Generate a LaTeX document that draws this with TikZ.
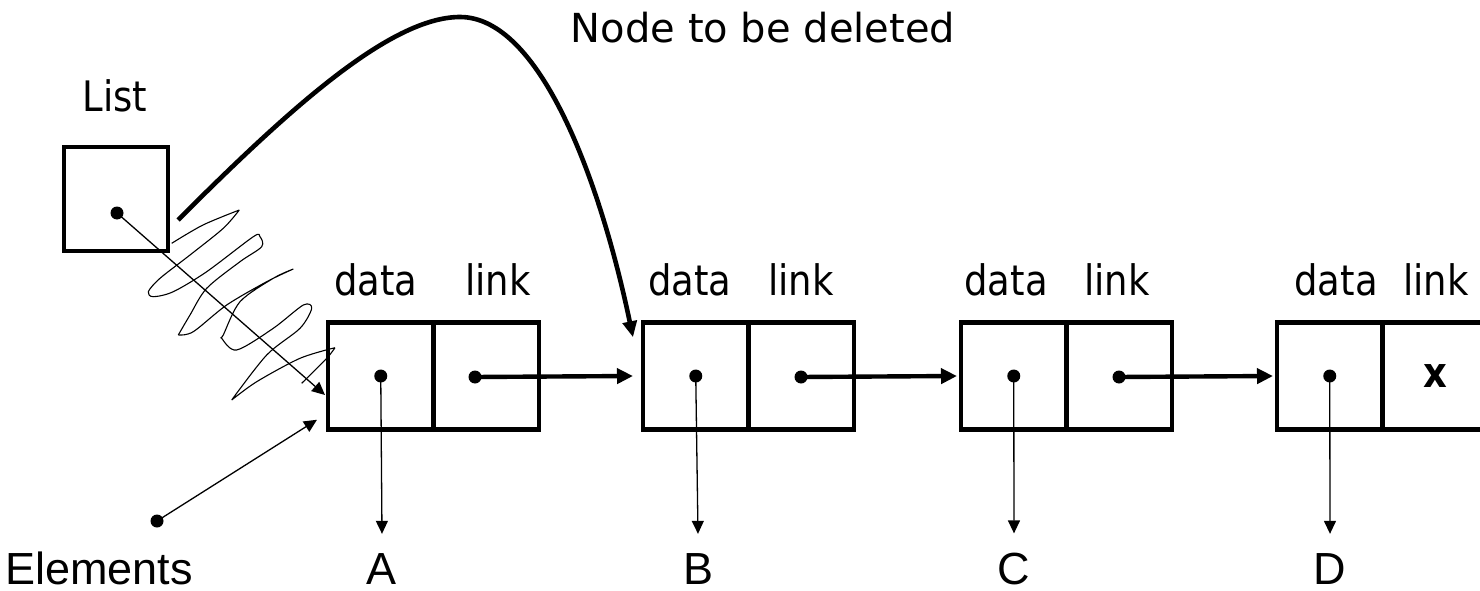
\documentclass[tikz,border=0pt]{standalone}
\usepackage{fontspec}
\setmainfont{DejaVu Sans}[FakeStretch=0.88]
\newfontfamily\titlefont{DejaVu Sans}
\newfontfamily\arialfont{Liberation Sans}
\usetikzlibrary{arrows.meta}

\begin{document}
\begin{tikzpicture}[x=1pt,y=-1pt,
  cell/.style={draw,line width=4.6pt,minimum width=105.5pt,minimum height=107.5pt,inner sep=0pt,outer sep=0pt},
  ptr/.style={circle,fill,inner sep=0pt,minimum size=13pt},
  fieldlbl/.style={anchor=base,inner sep=0pt,font=\fontsize{42}{50}\selectfont},
  elemlbl/.style={anchor=base,inner sep=0pt,font=\arialfont\fontsize{45}{54}\selectfont},
  linkarrow/.style={line width=4.4pt,-{Triangle[length=16pt,width=15pt]}},
  fine/.style={line width=1.3pt,-{Triangle[length=13pt,width=12pt]}},
  scrib/.style={smooth,tension=0.5},
]
\useasboundingbox (0,0) rectangle (1480,591);
\clip (0,0) rectangle (1480,591);

% list head
\node[draw,line width=4.6pt,minimum size=104pt,inner sep=0pt] (list) at (116,199) {};
\node[ptr] (list-p) at (117,213) {};
\node[fieldlbl] (list-t) at (115,112) {List};

% the four list nodes: data cell + link cell
\foreach \n/\L in {A/328,B/643,C/961,D/1277} {
  \node[cell] (\n-d) at (\L+52.75,376) {};
  \node[cell] (\n-l) at (\L+158.25,376) {};
  \node[ptr] (\n-v) at (\n-d) {};
}

% field captions
\node[fieldlbl] (A-dt) at (376,295) {data};
\node[fieldlbl] (A-lt) at (498,295) {link};
\node[fieldlbl] (B-dt) at (690,295) {data};
\node[fieldlbl] (B-lt) at (801,295) {link};
\node[fieldlbl] (C-dt) at (1006,295) {data};
\node[fieldlbl] (C-lt) at (1117,295) {link};
\node[fieldlbl] (D-dt) at (1336,295) {data};
\node[fieldlbl] (D-lt) at (1436,295) {link};

% link pointers
\node[ptr] (A-p) at (475,377) {};
\node[ptr] (B-p) at (801,377) {};
\node[ptr] (C-p) at (1119,377) {};
\node[inner sep=0pt,font=\bfseries\fontsize{42}{50}\selectfont] (D-x) at (D-l) {x};

\draw[linkarrow] (A-p.center) -- ([xshift=-10pt]B-d.west);
\draw[linkarrow] (B-p.center) -- ([xshift=-4pt]C-d.west);
\draw[linkarrow] (C-p.center) -- ([xshift=-4pt]D-d.west);

% element values
\node[elemlbl] (A-e) at (382,584) {A};
\node[elemlbl] (B-e) at (698,584) {B};
\node[elemlbl] (C-e) at (1014,584) {C};
\node[elemlbl] (D-e) at (1330,584) {D};
\foreach \n in {A,B,C,D}
  \draw[fine] (\n-v.center) -- ([yshift=19pt]\n-e.north);

% head pointer and Elements callout
\draw[fine] (list-p.center) -- ([shift={(-3,19)}]A-d.west);
\node[ptr] (el-p) at (157,521) {};
\node[elemlbl,anchor=base west] (el-t) at (5,584) {Elements};
\draw[fine] (el-p.center) -- ([shift={(-11,-10)}]A-d.south west);

% scribble over the deleted link, one smooth piece between sharp tips
\draw[line width=1.1pt,line join=round]
  plot[scrib] coordinates {(171.7,243.3) (203,225) (239.3,210)}
  plot[scrib] coordinates {(239.3,210) (223.3,228.3) (190,255) (160,278.3)
    (148.3,291.7) (153.3,296.7) (173.3,291.7) (206.7,271.7) (253.3,236.7)
    (260,236.7) (261.7,246.7) (240,261.7) (206.7,288.3) (190,315) (178.3,335)}
  plot[scrib] coordinates {(178.3,335) (193.3,331.7) (226.7,305) (266.7,281.7) (293.3,269)}
  plot[scrib] coordinates {(293.3,269) (273.3,278.3) (240,301.7) (223.3,335)
    (221.7,338.3) (236.7,350) (273.3,328.3) (303.3,305) (311.7,308.3)
    (300,328.3) (266.7,355) (231.7,400)}
  plot[scrib] coordinates {(231.7,400) (256.7,381.7) (300,358.3) (335,347.7)}
  plot[scrib] coordinates {(335,347.7) (326.7,358.3) (301.7,383.3)};

% new link bypassing the first node
\node[inner sep=0pt,anchor=base,font=\titlefont\fontsize{40}{48}\selectfont] (del-t) at (763,43) {Node to be deleted};
\coordinate (bend-start) at (178,220);
\draw[line width=4.6pt,-{Triangle[length=16pt,width=14pt]}]
  (bend-start) .. controls (288,110) and (390,17) .. (460,17)
  .. controls (540,17) and (600,180) .. ([shift={(-10,15)}]B-d.north west);
\end{tikzpicture}
\end{document}
